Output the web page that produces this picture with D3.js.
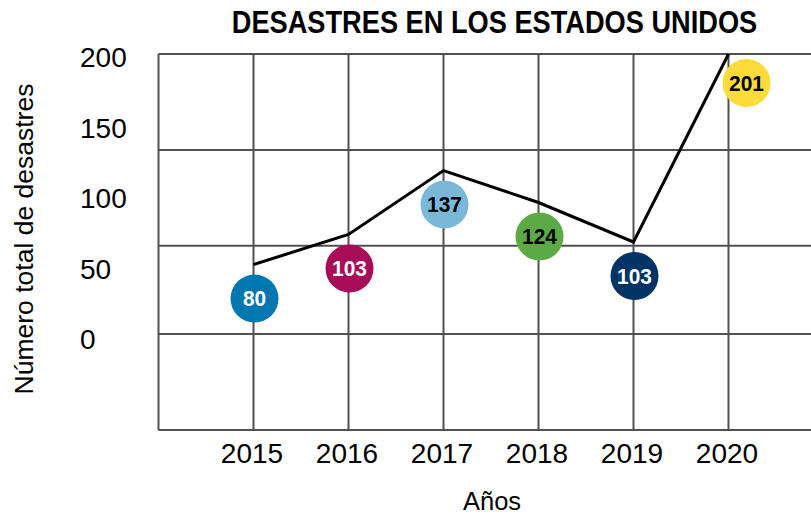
<!DOCTYPE html>
<html>
<head>
<meta charset="utf-8">
<script src="https://cdn.jsdelivr.net/npm/d3@7"></script>
<style>
  html, body { margin: 0; padding: 0; background: #fff; }
  svg { display: block; }
</style>
</head>
<body>
<svg id="chart" width="811" height="516"></svg>
<script>
// ---- data ----
const years = [2015, 2016, 2017, 2018, 2019, 2020];
const lineValues = [88, 104, 138, 121, 100, 200];
const labelValues = [80, 103, 137, 124, 103, 201];
const circleColors = ["#0077B0", "#A80D57", "#7AB8D8", "#5BAA46", "#003466", "#FDDB3A"];
const yTickLabels = [0, 50, 100, 150, 200];
const gridValues = [0, 51, 98, 149, 200];
const titleText = "DESASTRES EN LOS ESTADOS UNIDOS";
const yTitle = "Número total de desastres";
const xTitle = "Años";

const svg = d3.select("#chart");
const W = 811, H = 516;

const x = d3.scaleLinear().domain([2014, 2021]).range([158.5, 823.5]);
const y = d3.scaleLinear().domain([0, 200]).range([430, 54]);
// tick labels are drawn on their own (offset) scale, as in the original picture
const yLab = d3.scaleLinear().domain([0, 200]).range([340, 58]);

const gridColor = "#505050";

// horizontal grid lines
svg.append("g").selectAll("line").data(gridValues).join("line")
  .attr("x1", x(2014)).attr("x2", W)
  .attr("y1", d => y(d)).attr("y2", d => y(d))
  .attr("stroke", gridColor).attr("stroke-width", 2);

// vertical grid lines
svg.append("g").selectAll("line").data([2014].concat(years)).join("line")
  .attr("x1", d => x(d)).attr("x2", d => x(d))
  .attr("y1", y(200)).attr("y2", y(0))
  .attr("stroke", gridColor).attr("stroke-width", 2);

// y tick labels
const yAxis = d3.axisLeft(yLab).tickValues(yTickLabels).tickSize(0).tickPadding(0);
const gy = svg.append("g").attr("transform", "translate(80,0)").call(yAxis);
gy.select(".domain").remove();
gy.selectAll("text")
  .attr("x", 0).attr("text-anchor", "start")
  .attr("font-family", "'Liberation Sans', Arial, sans-serif")
  .attr("font-size", 28).attr("fill", "#000");

// x tick labels
const xAxis = d3.axisBottom(x).tickValues(years).tickFormat(d3.format("d")).tickSize(0).tickPadding(0);
const gx = svg.append("g").attr("transform", "translate(-2,443)").call(xAxis);
gx.select(".domain").remove();
gx.selectAll("text")
  .attr("dy", "0.71em")
  .attr("font-family", "'Liberation Sans', Arial, sans-serif")
  .attr("font-size", 28).attr("fill", "#000");

// line
const line = d3.line().x((d, i) => x(years[i])).y(d => y(d));
svg.append("path").datum(lineValues)
  .attr("d", line).attr("fill", "none")
  .attr("stroke", "#000").attr("stroke-width", 3).attr("stroke-linejoin", "miter");

// value circles (placed just below each line point)
const last = years.length - 1;
const cg = svg.append("g").selectAll("g").data(labelValues).join("g")
  .attr("transform", (d, i) => {
    const dx = i === last ? 18 : 1;
    const dy = i === last ? 29 : 34;
    return `translate(${x(years[i]) + dx},${y(lineValues[i]) + dy})`;
  });
cg.append("circle").attr("r", 24).attr("fill", (d, i) => circleColors[i]);
cg.append("text")
  .attr("text-anchor", "middle").attr("dy", "0.36em")
  .attr("font-family", "'Liberation Sans', Arial, sans-serif")
  .attr("font-weight", "bold").attr("font-size", 22)
  .attr("transform", "scale(0.95,1)")
  .attr("fill", (d, i) => d3.lab(circleColors[i]).l > 55 ? "#000" : "#fff")
  .text(d => d);

// title (heavy, slightly condensed)
svg.append("g").attr("transform", "translate(494.5,33) scale(0.878,1)")
  .append("text")
  .attr("x", 0).attr("y", 0)
  .attr("text-anchor", "middle")
  .attr("font-family", "'Liberation Sans', Arial, sans-serif")
  .attr("font-weight", "bold").attr("font-size", 31)
  .text(titleText);

// axis titles
svg.append("text")
  .attr("transform", "translate(33,239) rotate(-90)")
  .attr("text-anchor", "middle")
  .attr("font-family", "'Liberation Sans', Arial, sans-serif")
  .attr("font-size", 26.5)
  .text(yTitle);

svg.append("text")
  .attr("x", 492).attr("y", 510)
  .attr("text-anchor", "middle")
  .attr("font-family", "'Liberation Sans', Arial, sans-serif")
  .attr("font-size", 25.5)
  .text(xTitle);
</script>
</body>
</html>
